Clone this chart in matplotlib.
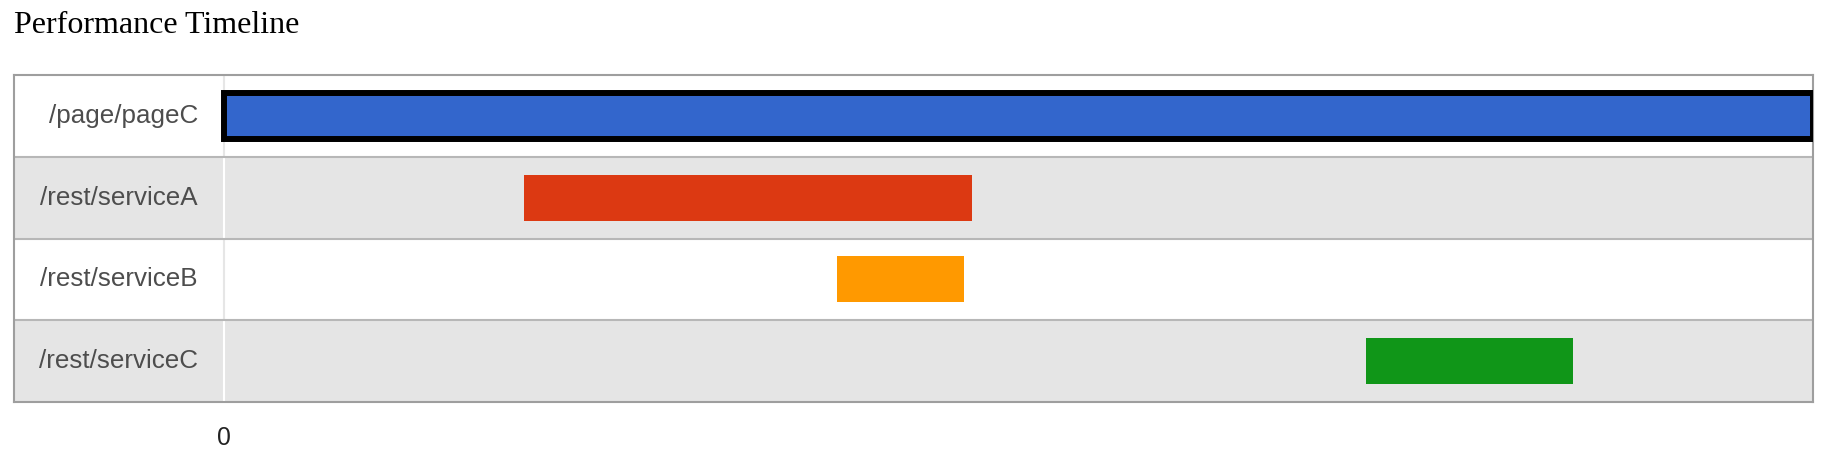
import matplotlib
matplotlib.use("Agg")
import matplotlib.pyplot as plt
import matplotlib.transforms as mtransforms

# ---- data ----
title = "Performance Timeline"
tasks = ["/page/pageC", "/rest/serviceA", "/rest/serviceB", "/rest/serviceC"]
starts = [0, 189, 386, 719]      # ms
ends = [1000, 471, 466, 849]     # ms
colors = ["#3366cc", "#dc3912", "#ff9900", "#109618"]
tick_values = [0]
tick_labels = ["0"]

W, H = 1836, 462
fig = plt.figure(figsize=(W / 100, H / 100), dpi=100)
fig.patch.set_facecolor("white")

# table box in pixel coordinates
x0, x_div, x1 = 14, 224, 1813
y_top, y_bot = 75, 402
ax = fig.add_axes([x0 / W, 1 - y_bot / H, (x1 - x0) / W, (y_bot - y_top) / H])

tmax = max(ends)
left_ext = -(x_div - x0) / (x1 - x_div) * tmax
ax.set_xlim(left_ext, tmax)
n = len(tasks)
ax.set_ylim(n, 0)

row_bg = ["white", "#e5e5e5"]
for i in range(n):
    ax.axhspan(i, i + 1, color=row_bg[i % 2], zorder=0, lw=0)
    # label/plot divider
    ax.vlines(0, i, i + 1, colors="#e6e6e6" if i % 2 == 0 else "white", lw=1.5, zorder=1)
for i in range(1, n):
    ax.axhline(i, color="#b7b7b7", lw=1.5, zorder=1)

bar_h = 46 / ((y_bot - y_top) / n)
for i, (s, e, c) in enumerate(zip(starts, ends, colors)):
    if i == 0:
        ax.barh(i + 0.5, e - s, left=s, height=bar_h, color=c,
                edgecolor="black", linewidth=4.3, zorder=4)
    else:
        ax.barh(i + 0.5, e - s, left=s, height=bar_h, color=c,
                linewidth=0, zorder=4)

# row labels
trans = mtransforms.blended_transform_factory(fig.transFigure, ax.transData)
for i, t in enumerate(tasks):
    ax.text(198 / W, i + 0.5, t, transform=trans, ha="right", va="center",
            fontsize=18.7, color="#4d4d4d", family="Liberation Sans")

ax.set_yticks([])
ax.set_xticks(tick_values)
ax.set_xticklabels(tick_labels, fontsize=17.8, family="Liberation Sans", color="#222222")
ax.tick_params(axis="x", length=0, pad=17)

for sp in ax.spines.values():
    sp.set_color("#9e9e9e")
    sp.set_linewidth(1.5)
    sp.set_zorder(3)

fig.text(14 / W, 1 - 33 / H, title, ha="left", va="baseline",
         fontsize=23, family="Liberation Serif", color="black")

fig.savefig("out.png", dpi=100, facecolor="white")
